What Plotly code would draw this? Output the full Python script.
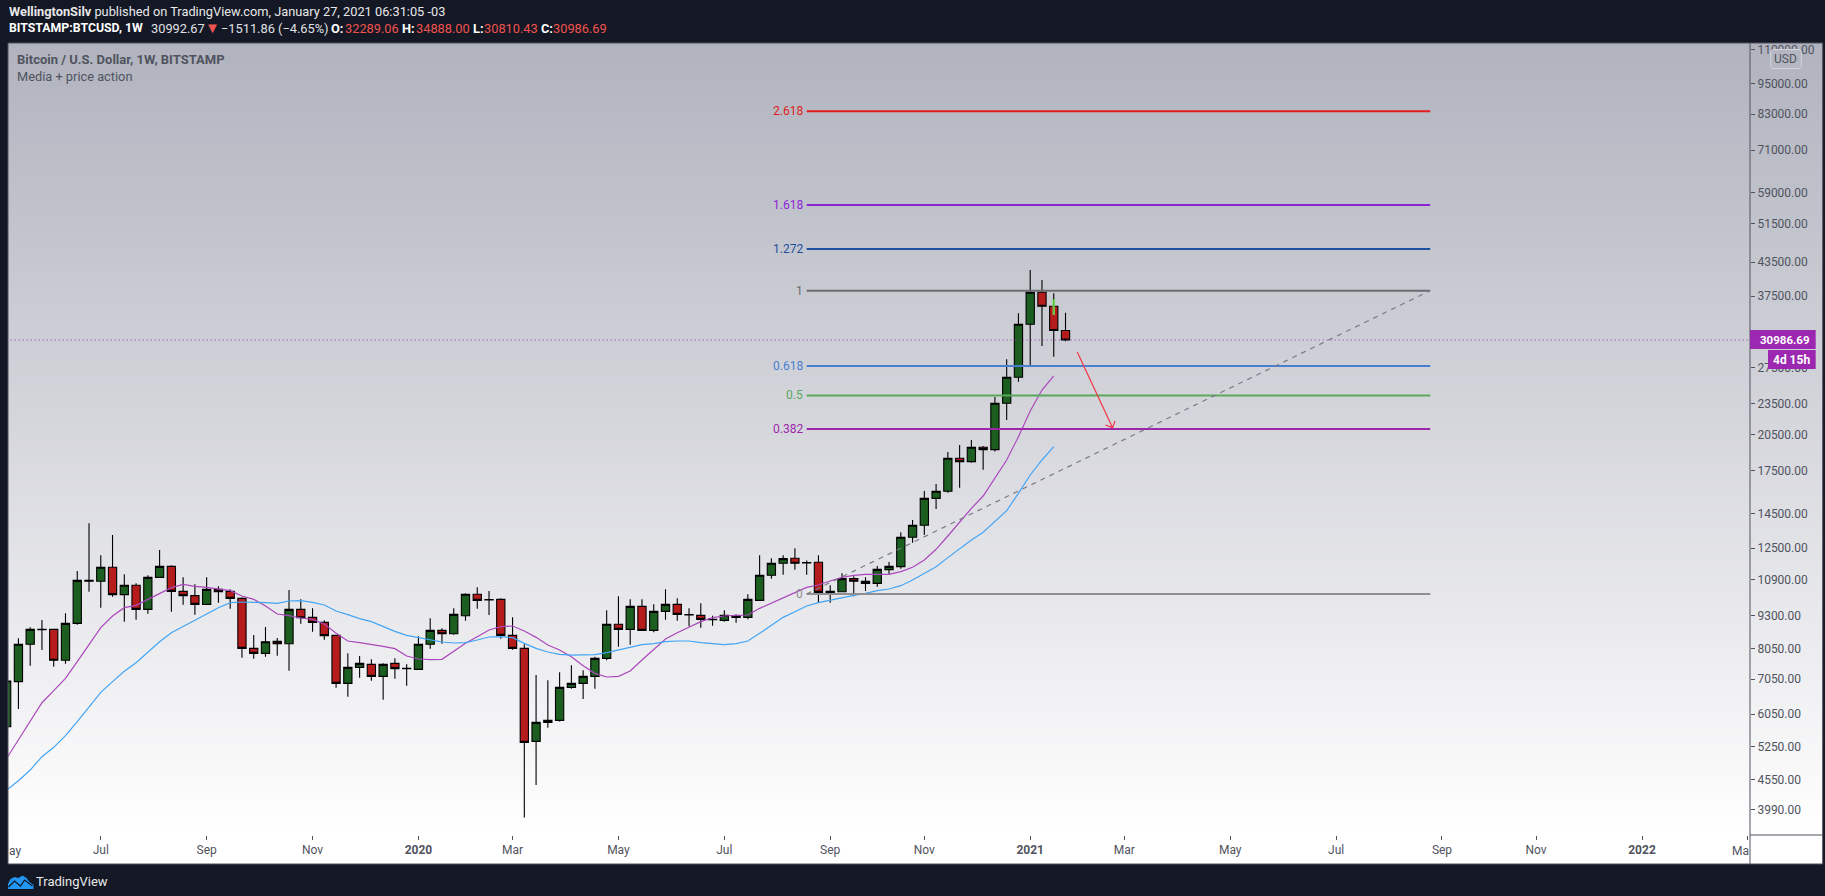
import math
import pandas as pd
import plotly.graph_objects as go

FIRST_WEEK = "2019-05-06"
N_WEEKS = 91

opens = [5731, 6975, 8210, 8750, 8765, 7656, 8997, 10855, 10808, 11489,
         10197, 10621, 9564, 10998, 11539, 10346, 10152, 9775, 10437, 10346,
         10035, 8067, 7893, 8317, 8233, 9564, 9236, 9036, 8538, 6924,
         7425, 7523, 7139, 7556, 7382, 7360, 8210, 8726, 8600, 9303,
         10213, 9977, 9991, 8538, 8067, 5376, 5840, 5891, 6804, 6924,
         7139, 7723, 8961, 8765, 9690, 8726, 9480, 9775, 9344, 9317,
         9155, 9116, 9303, 9236, 9947, 11095, 11692, 11950, 11727, 11745,
         10300, 10330, 10935, 10808, 10713, 11372, 11522, 13097, 13802, 15526,
         16009, 18489, 18221, 19398, 19201, 23505, 26330, 33180, 38157, 35894,
         32289.06]
highs = [7190, 8427, 8842, 9129, 8780, 9399, 11306, 13923, 12108, 13230,
         11143, 10713, 11095, 12393, 11590, 10998, 10667, 10998, 10574, 10437,
         10079, 8550, 8854, 8439, 10406, 9991, 9606, 9116, 8563, 7893,
         7802, 7689, 7556, 7723, 7523, 8500, 9197, 8803, 9606, 10256,
         10528, 10361, 10035, 9236, 8210, 7181, 7016, 7264, 7490, 7328,
         7779, 9522, 10123, 9991, 9991, 9775, 10437, 10035, 9606, 9818,
         9303, 9522, 9357, 10213, 12108, 11950, 12108, 12484, 11830, 12108,
         10621, 11192, 11046, 10998, 11556, 11760, 13386, 14127, 16032, 16529,
         19007, 19598, 20029, 19512, 24165, 28480, 34815, 42062, 40268, 37992,
         34888.00]
lows = [5648, 6190, 7479, 8008, 7446, 7545, 8945, 10330, 9634, 10108,
        9063, 9142, 9385, 10970, 9467, 9761, 9344, 9761, 9847, 9592,
        7745, 7712, 7779, 7813, 7318, 8984, 8676, 8378, 6794, 6532,
        7098, 7006, 6447, 7067, 6854, 7355, 8054, 8233, 8563, 9103,
        9592, 9330, 8416, 8019, 3855, 4442, 5706, 5865, 6765, 6466,
        6765, 7656, 8126, 8197, 8714, 8652, 9142, 9103, 8880, 8828,
        8906, 9063, 9023, 9155, 9947, 10935, 11127, 11372, 11127, 9832,
        9847, 10300, 10123, 10361, 10559, 11160, 11422, 12795, 13231, 14817,
        15915, 16266, 18141, 17596, 19037, 21860, 25838, 27785, 30190, 28812,
        30810.43]
closes = [6995, 8210, 8765, 8765, 7656, 8997, 10855, 10808, 11489, 10197,
          10621, 9564, 10998, 11539, 10346, 10152, 9775, 10437, 10330, 10035,
          8067, 7893, 8305, 8233, 9564, 9222, 9036, 8526, 6924, 7425,
          7556, 7139, 7523, 7382, 7393, 8210, 8726, 8600, 9357, 10213,
          9947, 9962, 8538, 8067, 5352, 5840, 5891, 6804, 6924, 7139,
          7723, 8961, 8765, 9690, 8726, 9480, 9775, 9357, 9330, 9155,
          9142, 9317, 9236, 9991, 11095, 11692, 11933, 11692, 11710, 10300,
          10346, 10935, 10808, 10713, 11389, 11539, 13097, 13802, 15526, 16009,
          18489, 18221, 19398, 19201, 23505, 26330, 33180, 38157, 35894, 32289,
          30986.69]
ma_fast = [4991, 5407, 5857, 6363, 6706, 7078, 7611, 8185, 8828, 9290,
           9634, 9732, 9991, 10256, 10513, 10667, 10574, 10528, 10437, 10376,
           10138, 9991, 9704, 9371, 9303, 9209, 9155, 8971, 8613, 8330,
           8269, 8209, 8138, 8055, 7802, 7701, 7678, 7689, 7950, 8245,
           8488, 8739, 8867, 8893, 8701, 8463, 8185, 8008, 7779, 7479,
           7233, 7119, 7139, 7307, 7667, 8043, 8403, 8638, 8842, 9063,
           9222, 9290, 9317, 9330, 9606, 9818, 10035, 10286, 10528, 10636,
           10824, 10998, 11095, 11143, 11143, 11143, 11274, 11489, 11864, 12430,
           13172, 14025, 14864, 15684, 16943, 18355, 20322, 22731, 24912, 26483]
ma_slow = [4347, 4527, 4743, 5027, 5237, 5511, 5857, 6253, 6657, 6975,
           7297, 7578, 7950, 8305, 8638, 8867, 9103, 9371, 9634, 9847,
           9876, 9876, 9847, 9818, 9918, 9933, 9861, 9747, 9494, 9344,
           9183, 9063, 8867, 8688, 8538, 8463, 8391, 8293, 8257, 8269,
           8366, 8476, 8488, 8451, 8245, 8067, 7939, 7858, 7835, 7835,
           7847, 7916, 8008, 8114, 8197, 8233, 8305, 8330, 8330, 8269,
           8221, 8197, 8233, 8330, 8613, 8932, 9236, 9467, 9704, 9847,
           9962, 10050, 10167, 10256, 10376, 10452, 10605, 10871, 11192, 11522,
           11985, 12448, 12945, 13386, 14025, 14713, 15868, 17190, 18355, 19456]
assert all(len(s) == N_WEEKS for s in (opens, highs, lows, closes))
assert len(ma_fast) == len(ma_slow) == N_WEEKS - 1

fib_labels = ["2.618", "1.618", "1.272", "1", "0.618", "0.5", "0.382", "0"]
fib_prices = [84079, 55869, 46108, 38436, 27660, 24331, 21002, 10226]
fib_colors = ["#e01b1b", "#8e24d8", "#1c4f9c", "#6b6c70", "#4a7fd0", "#59a85c", "#9c27a8", "#8e8f92"]
fib_start, fib_end = "2020-08-24", "2021-08-30"

trend_prices = [10226, 38436]
last_price = 30986.69

arrow_dates = ["2021-02-01", "2021-02-22", "2021-02-17 17:00", "2021-02-22", "2021-02-23 10:00"]
arrow_prices = [29408, 21137, 21385, 21137, 21759]
mark_prices = [37010, 34560]
mark_date = "2021-01-18"

y_ticks = [110000, 95000, 83000, 71000, 59000, 51500, 43500, 37500, 27500, 23500, 20500,
           17500, 14500, 12500, 10900, 9300, 8050, 7050, 6050, 5250, 4550, 3990]
x_ticks = ["2019-07-01", "2019-09-02", "2019-11-04", "2020-01-06", "2020-03-02", "2020-05-04",
           "2020-07-06", "2020-09-07", "2020-11-02", "2021-01-04", "2021-03-01", "2021-05-03",
           "2021-07-05", "2021-09-06", "2021-11-01", "2022-01-03", "2022-03-07"]
x_labels = ["Jul", "Sep", "Nov", "<b>2020</b>", "Mar", "May", "Jul", "Sep", "Nov", "<b>2021</b>",
            "Mar", "May", "Jul", "Sep", "Nov", "<b>2022</b>", ""]

grad_stops = [(43, (176, 179, 190)), (430, (214, 215, 221)), (835, (255, 255, 255)), (864, (255, 255, 255))]

DARK = "#131824"
TXT = "#50535e"
FONT = "Roboto"
L, R, T, B = 7.5, 1750.0, 43.0, 835.0
EDGE_R, EDGE_B = 1822.7, 864.0

def px(x):
    return (x - L) / (R - L)

def py(y):
    return (B - y) / (B - T)

dates = pd.date_range(FIRST_WEEK, periods=N_WEEKS, freq="7D")

fig = go.Figure()
fig.add_trace(go.Candlestick(
    x=dates, open=opens, high=highs, low=lows, close=closes, whiskerwidth=0,
    increasing=dict(fillcolor="#1b5e20", line=dict(color="#000000", width=1.1)),
    decreasing=dict(fillcolor="#b71c1c", line=dict(color="#000000", width=1.1)),
    showlegend=False, hoverinfo="skip"))
fig.add_trace(go.Scatter(x=dates[:-1], y=ma_fast, mode="lines", line=dict(color="#ab47bc", width=1.2),
                         showlegend=False, hoverinfo="skip"))
fig.add_trace(go.Scatter(x=dates[:-1], y=ma_slow, mode="lines", line=dict(color="#42a5f5", width=1.2),
                         showlegend=False, hoverinfo="skip"))
for lab, price, col in zip(fib_labels, fib_prices, fib_colors):
    fig.add_trace(go.Scatter(x=[fib_start, fib_end], y=[price, price], mode="lines",
                             line=dict(color=col, width=2), showlegend=False, hoverinfo="skip"))
fig.add_trace(go.Scatter(x=[fib_start, fib_end], y=trend_prices, mode="lines",
                         line=dict(color="#787b86", width=1.2, dash="5px,5px"), showlegend=False, hoverinfo="skip"))
fig.add_trace(go.Scatter(x=[dates[0], "2022-03-08"], y=[last_price, last_price], mode="lines",
                         line=dict(color="#9c27b0", width=1, dash="1px,3px"), showlegend=False, hoverinfo="skip"))
fig.add_trace(go.Scatter(x=[mark_date, mark_date], y=mark_prices, mode="lines",
                         line=dict(color="#66e64d", width=2.6), opacity=0.8, showlegend=False, hoverinfo="skip"))
fig.add_trace(go.Scatter(x=arrow_dates, y=arrow_prices, mode="lines",
                         line=dict(color="#f23645", width=1.2), showlegend=False, hoverinfo="skip"))

shapes = []
def color_at(y):
    for (y0, c0), (y1, c1) in zip(grad_stops, grad_stops[1:]):
        if y <= y1:
            t = (y - y0) / (y1 - y0)
            return "rgb(%d,%d,%d)" % tuple(round(a + (b - a) * t) for a, b in zip(c0, c1))
    return "rgb(255,255,255)"

y = T
while y < EDGE_B:
    shapes.append(dict(type="rect", xref="paper", yref="paper", layer="below", x0=px(L), x1=px(EDGE_R),
                       y0=py(y), y1=py(min(y + 4.5, EDGE_B)), line=dict(width=0), fillcolor=color_at(y + 2)))
    y += 4

def rect(x0, y0, x1, y1, fill=None, line=None, layer="above", lw=1):
    shapes.append(dict(type="rect", xref="paper", yref="paper", layer=layer, x0=px(x0), x1=px(x1), y0=py(y0), y1=py(y1),
                       fillcolor=fill or "rgba(0,0,0,0)", line=dict(color=line or "rgba(0,0,0,0)", width=lw if line else 0)))

def path(points, fill=None, line=None, lw=1, close=True):
    d = "M " + " L ".join("%.5f,%.5f" % (px(a), py(b)) for a, b in points) + (" Z" if close else "")
    shapes.append(dict(type="path", xref="paper", yref="paper", layer="above", path=d,
                       fillcolor=fill or "rgba(0,0,0,0)", line=dict(color=line or "rgba(0,0,0,0)", width=lw if line else 0)))

rect(L, T, EDGE_R, EDGE_B, line=TXT)
path([(R, T), (R, EDGE_B)], line=TXT, close=False)
path([(R, B), (EDGE_R, B)], line=TXT, close=False)
rect(R, 330, 1815.7, 349, fill="#9c27b0")
rect(1768, 350, 1815.7, 369, fill="#9c27b0")
path([(1773, 49.5), (1799, 49.5), (1801.3, 51.5), (1801.3, 66.5), (1799, 68.5), (1773, 68.5), (1770.7, 66.5), (1770.7, 51.5)],
     fill="#b4b7c1", line="#d3d5dc")
# TradingView cloud
path([(7.5, 889), (7.5, 884), (10, 879), (14, 877), (18, 878), (22, 875.5), (26, 878), (29, 882), (33, 885), (33, 889)], fill="#2196f3")
path([(8, 887), (14, 881), (20, 886), (24, 880), (32, 886)], line=DARK, lw=1.2, close=False)

anns = []
def ann(x, y, text, color="#ffffff", size=12, anchor="left"):
    anns.append(dict(xref="paper", yref="paper", x=px(x), y=py(y), text=text, showarrow=False, xanchor=anchor,
                     yanchor="middle", align="left", borderpad=0, font=dict(color=color, size=size, family=FONT)))

for lab, price, col in zip(fib_labels, fib_prices, fib_colors):
    anns.append(dict(xref="x", yref="y", x=fib_start, y=math.log10(price), text=lab, showarrow=False, xanchor="right",
                     yanchor="middle", xshift=-3, yshift=0, borderpad=0, font=dict(color=col, size=12, family=FONT)))

RED = "#ef5350"
H = 12.8
ann(7, 11.5, "<b>WellingtonSilv</b> published on TradingView.com, January 27, 2021 06:31:05 -03", "#e8e8ea", H)
ann(7, 28.5, "<b>BITSTAMP:BTCUSD, 1W</b>", "#ffffff", 12.3)
ann(150, 28.5, "30992.67", "#e0e0e4", H)
ann(204, 28.5, "▼", RED, 15)
ann(220, 28.5, "−1511.86 (−4.65%)", "#e0e0e4", H)
for xa, lab, xb, val in [(330, "O:", 344, "32289.06"), (401, "H:", 415, "34888.00"),
                         (472, "L:", 483, "30810.43"), (540, "C:", 552, "30986.69")]:
    ann(xa, 28.5, "<b>%s</b>" % lab, "#ffffff", H)
    ann(xb, 28.5, val, RED, H)
ann(16, 59, "<b>Bitcoin / U.S. Dollar, 1W, BITSTAMP</b>", TXT, 13)
ann(16, 76.5, "Media + price action", TXT, 12.8)
ann(1786, 59, "USD", TXT, 12, "center")
ann(1759.3, 339.5, "<b>30986.69</b>", "#ffffff", 11.5)
ann(1772, 359.5, "<b>4d 15h</b>")
ann(35, 882, "TradingView", "#e8e8ea", 13)
ann(7.5, 851, "ay", TXT)
ann(1750, 851, "Ma", TXT, 12, "right")

fig.update_layout(
    width=1825, height=896, margin=dict(l=L, r=1825 - R, t=T, b=896 - B, pad=0),
    paper_bgcolor=DARK, plot_bgcolor="rgba(0,0,0,0)", showlegend=False, boxgap=0.3, boxgroupgap=0,
    font=dict(family=FONT, size=12, color=TXT), shapes=shapes, annotations=anns,
    xaxis=dict(type="date", range=["2019-05-06 19:12", "2022-03-08 06:14"], rangeslider=dict(visible=False),
               tickmode="array", tickvals=x_ticks, ticktext=x_labels, ticks="outside", ticklen=4, tickcolor=TXT,
               showgrid=False, zeroline=False, showline=False, tickfont=dict(color=TXT, size=12, family=FONT)),
    yaxis=dict(type="log", side="right", range=[math.log10(3572), math.log10(113270)],
               tickmode="array", tickvals=y_ticks, ticktext=["%.2f" % v for v in y_ticks], ticks="outside", ticklen=4,
               tickcolor=TXT, showgrid=False, zeroline=False, showline=False, tickfont=dict(color=TXT, size=12, family=FONT)),
)
fig.write_html("out.html", config=dict(displayModeBar=False),
               post_script="document.body.style.margin='0';document.body.style.overflow='hidden';document.body.style.background='%s';" % DARK)
